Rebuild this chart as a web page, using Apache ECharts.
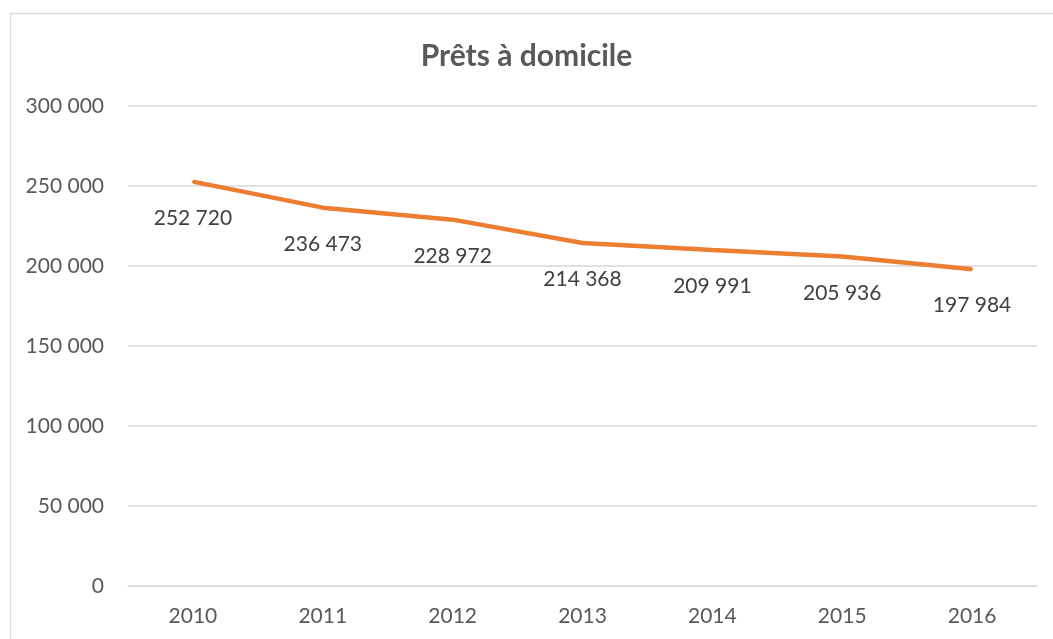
<!DOCTYPE html>
<html><head><meta charset="utf-8">
<script src="https://cdn.jsdelivr.net/npm/echarts@6/dist/echarts.min.js"></script>
<style>html,body{margin:0;padding:0;background:#fff;}#c{width:1053px;height:639px;}</style>
</head><body><div id="c"></div>
<script>
const categories = ['2010','2011','2012','2013','2014','2015','2016'];
const values = [252720, 236473, 228972, 214368, 209991, 205936, 197984];
const yTicks = {min: 0, max: 300000, interval: 50000};
const title = 'Prêts à domicile';

function fmt(v){ return String(v).replace(/\B(?=(\d{3})+(?!\d))/g, ' '); }

const chart = echarts.init(document.getElementById('c'));
chart.setOption({
  animation: false,
  textStyle: {fontFamily: 'Lato'},
  graphic: [{type:'rect', shape:{x:10.5,y:13.5,width:1100,height:700}, style:{fill:'none', stroke:'#d9d9d9', lineWidth:1.5}, silent:true}],
  title: {text: title, left: 'center', top: 36, textStyle:{fontFamily:'Lato', fontSize:30, fontWeight:'bold', color:'#595959'}},
  grid: {left:128, right:16, top:106, bottom:53},
  xAxis: {type:'category', data: categories, boundaryGap:true,
    axisLine:{lineStyle:{color:'#d9d9d9', width:1.5}}, axisTick:{show:false},
    axisLabel:{color:'#595959', fontSize:21, margin:20}},
  yAxis: {type:'value', min:yTicks.min, max:yTicks.max, interval:yTicks.interval,
    axisLine:{show:false}, axisTick:{show:false},
    splitLine:{lineStyle:{color:'#d9d9d9', width:1.5}},
    axisLabel:{color:'#595959', fontSize:21, margin:24, formatter: fmt}},
  series: [{type:'line', data: values, symbol:'circle', symbolSize:2, showSymbol:true,
    itemStyle:{color:'#ED7D31'},
    lineStyle:{color:'#ED7D31', width:4.5},
    label:{show:true, position:'bottom', distance:25, color:'#404040', fontSize:21, fontFamily:'Lato', formatter: p => fmt(p.value)}}]
});
</script></body></html>
